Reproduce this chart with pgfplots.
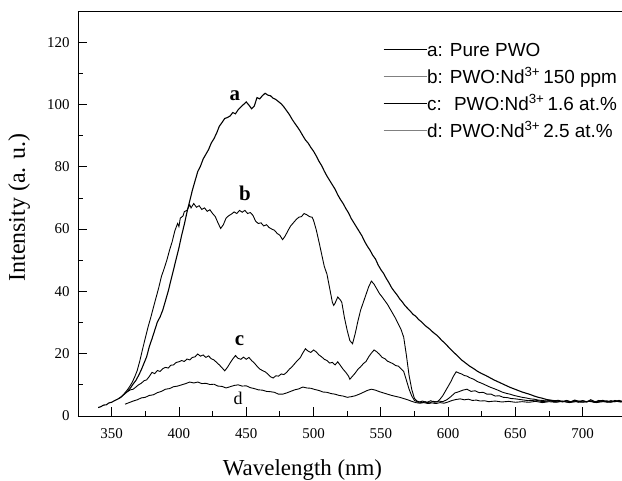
\documentclass[border=0pt]{standalone}
\usepackage{pgfplots}
\pgfplotsset{compat=1.18}
\usepackage{fontspec}
\setmainfont{Liberation Serif}
\newfontfamily\arial{Liberation Sans}
\begin{document}
\begin{tikzpicture}
\begin{axis}[
  scale only axis, width=544bp, height=405bp,
  xmin=325, xmax=729.2, ymin=0, ymax=130,
  axis x line=box, axis y line=left,
  y axis line style={-}, x axis line style={-},
  axis line style={line width=0.9pt},
  xtick pos=left, ytick pos=left,
  tick align=inside,
  major tick length=9bp, minor tick length=5bp,
  every tick/.style={black, line width=0.8pt},
  xtick={350,400,...,700}, ytick={0,20,...,120},
  minor x tick num=1, minor y tick num=1,
  /pgf/number format/assume math mode=true,
  tick label style={font=\fontsize{15}{17}\selectfont},
  xticklabel style={yshift=-9bp},
  yticklabel style={xshift=-5bp},
  every axis x label/.style={at={(axis description cs:0.4127,-0.148)}, anchor=base},
  every axis y label/.style={at={(axis description cs:-0.108,0.515)}, rotate=90, anchor=center},
  xlabel style={font=\fontsize{23}{27}\selectfont},
  ylabel style={font=\fontsize{24}{28}\selectfont},
  xlabel={Wavelength (nm)}, ylabel={Intensity (a. u.)},
  legend style={at={(0.5607,0.9185)}, anchor=north west, draw=none, fill=none,
    inner sep=0pt, row sep=12bp, column sep=0pt,
    font=\arial\fontsize{19}{22}\selectfont,
    nodes={inner sep=0pt, text height=12bp, text depth=3bp}},
  legend cell align=left,
  legend image code/.code={\draw[#1] (0bp,2bp) -- (43bp,2bp);},
]
\addlegendimage{black, line width=0.6pt}
\addlegendentry{a: Pure PWO}
\addlegendimage{gray, line width=0.9pt}
\addlegendentry{b: PWO:Nd\textsuperscript{3+}\,150 ppm}
\addlegendimage{black, line width=0.6pt}
\addlegendentry{c: \ PWO:Nd\textsuperscript{3+}\,1.6 at.\%}
\addlegendimage{gray, line width=0.9pt}
\addlegendentry{d: PWO:Nd\textsuperscript{3+}\,2.5 at.\%}

% curve a
\addplot[black, line width=1.1pt, forget plot] coordinates {
(340,2.7)(342,3.0)(344,3.5)(346,3.6)(348,4.2)(350,4.4)(352,4.9)(354,5.3)(356,5.8)(358,6.5)(360,7.2)(362,8.0)(364,9.0)(366,10.3)(368,11.4)(370,13.0)(372,14.8)(374,16.9)(376,19.0)(378,22.3)(380,24.8)(382,27.5)(384,30.2)(386,31.8)(388,34.0)(390,37.0)(392,40.0)(394,43.5)(396,47.0)(398,50.5)(400,54.0)(402,58.0)(404,61.5)(406,65.5)(408,69.0)(410,72.5)(412,75.5)(414,78.5)(416,80.2)(418,82.5)(420,84.0)(422,85.5)(424,87.6)(426,89.0)(428,90.8)(430,93.0)(432,94.2)(434,95.5)(436,95.8)(438,96.3)(440,97.4)(442,97.0)(444,98.3)(446,99.2)(448,100.0)(450,100.8)(452,99.8)(454,98.6)(456,99.5)(458,102.2)(460,101.8)(462,102.8)(464,103.6)(466,103.0)(468,102.8)(470,102.0)(472,101.6)(474,100.9)(476,100.2)(478,99.2)(480,98.0)(482,96.8)(484,95.3)(486,94.0)(488,92.8)(490,91.5)(492,90.0)(494,88.6)(496,87.6)(498,86.2)(500,85.0)(502,83.5)(504,81.8)(506,80.4)(508,78.6)(510,77.0)(512,75.6)(514,74.2)(516,72.8)(518,71.0)(520,69.5)(522,68.2)(524,66.6)(526,65.2)(528,63.4)(530,62.0)(532,60.6)(534,59.2)(536,57.8)(538,56.0)(540,54.5)(542,53.2)(544,51.6)(546,50.4)(548,48.5)(550,47.0)(552,45.8)(554,44.2)(556,42.8)(558,41.2)(560,40.0)(562,38.9)(564,37.6)(566,36.6)(568,35.4)(570,34.5)(572,33.6)(574,32.6)(576,32.0)(578,31.0)(580,30.3)(583,29.0)(586,28.0)(589,26.8)(592,25.8)(595,24.4)(598,23.2)(601,21.8)(604,20.5)(607,19.3)(610,18.0)(613,17.0)(616,16.0)(619,15.2)(622,14.3)(625,13.6)(628,13.0)(631,12.3)(634,11.6)(637,11.0)(640,10.4)(643,9.8)(646,9.2)(649,8.7)(652,8.2)(655,7.7)(658,7.3)(661,6.9)(664,6.4)(667,6.0)(670,5.7)(673,5.3)(676,5.1)(679,4.9)(682,5.0)(685,4.6)(688,4.9)(691,4.5)(694,5.1)(697,4.7)(700,4.9)(703,4.5)(706,5.2)(709,4.6)(712,4.8)(715,5.0)(718,4.5)(721,4.9)(724,4.6)(727,5.0)(729,4.7)
};
% curve b
\addplot[black, line width=0.9pt, forget plot] coordinates {
(355,5.6)(357,6.0)(359,7.0)(361,8.0)(363,9.2)(365,10.6)(367,12.4)(369,14.6)(371,17.8)(373,21.5)(375,25.0)(377,28.5)(379,31.5)(381,34.8)(383,38.0)(385,41.2)(387,44.8)(389,47.3)(391,50.0)(393,53.2)(395,56.0)(397,59.5)(399,61.8)(400,60.8)(401,63.5)(403,64.2)(404,65.6)(406,66.0)(408,67.8)(409,66.8)(411,68.2)(413,67.0)(415,67.5)(417,66.3)(419,66.8)(421,65.7)(423,66.2)(425,65.0)(427,64.0)(429,62.0)(431,60.2)(433,61.4)(435,63.5)(437,64.3)(439,64.8)(441,65.5)(443,65.0)(445,66.0)(447,65.4)(449,66.0)(451,65.0)(453,65.3)(455,64.4)(457,62.5)(459,61.8)(461,62.0)(463,61.0)(465,61.4)(467,60.5)(469,60.0)(471,59.6)(473,58.6)(475,58.0)(477,56.6)(479,57.8)(481,59.5)(483,61.0)(485,62.0)(487,63.0)(489,63.8)(491,64.0)(493,65.0)(495,64.6)(497,64.0)(499,63.8)(500,62.8)(502,59.8)(504,56.0)(506,52.0)(508,48.0)(510,45.5)(512,41.0)(514,36.5)(515,35.5)(516,36.2)(518,38.2)(520,37.2)(521,36.5)(523,31.5)(525,27.5)(527,24.2)(529,23.2)(531,26.5)(533,30.5)(535,34.0)(537,36.5)(539,39.0)(541,41.5)(543,43.3)(545,42.3)(547,40.8)(549,39.3)(551,38.2)(553,37.0)(555,35.8)(557,34.3)(559,32.8)(561,31.3)(563,29.5)(565,27.8)(567,25.3)(569,19.5)(571,13.0)(573,8.5)(575,5.6)(577,4.8)(580,4.3)(583,4.6)(586,4.2)(589,4.7)(592,4.5)(594,5.4)(596,6.5)(598,8.0)(600,9.5)(602,11.0)(604,12.8)(606,14.2)(608,13.8)(610,13.5)(612,13.0)(614,12.8)(616,12.3)(619,11.8)(622,11.0)(625,10.5)(628,9.9)(631,9.3)(634,8.8)(637,8.3)(640,7.7)(643,7.3)(646,7.0)(649,6.6)(652,6.3)(655,6.0)(658,5.8)(661,5.5)(664,5.4)(667,5.1)(670,5.0)(673,4.8)(676,5.0)(679,4.6)(682,4.9)(685,4.5)(688,5.0)(691,4.6)(694,4.8)(697,4.4)(700,4.9)(703,4.6)(706,4.8)(709,4.4)(712,5.0)(715,4.6)(718,4.9)(721,4.5)(724,5.0)(727,4.6)(729,4.8)
};
% curve c
\addplot[black, line width=0.9pt, forget plot] coordinates {
(360,7.4)(362,7.9)(364,8.4)(366,8.6)(368,9.3)(370,10.0)(372,10.5)(374,11.3)(376,11.6)(378,12.7)(380,14.0)(382,13.6)(384,14.6)(386,14.3)(388,15.2)(390,15.6)(392,15.4)(394,16.3)(396,16.4)(398,17.2)(400,17.4)(402,17.8)(404,17.5)(406,18.3)(408,18.0)(410,18.8)(412,19.0)(414,19.9)(416,19.2)(418,19.6)(420,18.8)(422,19.3)(424,18.4)(426,18.0)(428,17.2)(430,16.4)(432,15.5)(434,14.5)(436,15.6)(438,17.0)(440,18.3)(442,19.4)(444,18.5)(446,18.2)(448,18.9)(450,18.2)(452,18.8)(454,17.8)(456,17.0)(458,16.0)(460,15.1)(462,14.6)(464,14.2)(466,13.5)(468,12.6)(470,12.2)(472,12.9)(474,12.8)(476,13.5)(478,13.3)(480,14.0)(482,15.0)(484,15.8)(486,16.8)(488,17.8)(490,18.6)(492,20.2)(494,21.6)(496,20.8)(498,20.4)(500,21.2)(502,20.6)(504,19.6)(506,19.0)(508,18.2)(510,17.8)(512,17.0)(514,17.2)(516,16.4)(518,17.4)(520,16.2)(522,15.0)(524,14.0)(526,12.8)(527,11.8)(529,12.8)(531,13.8)(533,15.0)(535,15.8)(537,16.8)(539,17.5)(541,19.0)(543,20.2)(545,21.2)(547,20.6)(549,19.8)(551,18.8)(553,18.4)(555,17.6)(557,17.2)(559,16.8)(561,16.2)(563,16.0)(565,15.2)(567,14.3)(569,11.5)(571,8.6)(573,6.4)(575,5.0)(578,4.4)(581,4.8)(584,4.3)(587,4.9)(590,4.4)(593,4.8)(596,4.6)(599,5.2)(602,6.2)(605,7.4)(608,7.8)(611,8.3)(614,8.6)(617,7.9)(620,8.1)(623,7.5)(626,7.6)(629,7.0)(632,7.0)(635,6.4)(638,6.5)(641,6.0)(644,5.9)(647,5.6)(650,5.5)(655,5.2)(660,4.9)(665,5.1)(670,4.6)(675,4.9)(680,4.5)(685,4.8)(690,4.4)(695,4.9)(700,4.5)(705,4.8)(710,4.4)(715,4.9)(720,4.5)(725,4.8)(729,4.5)
};
% curve d
\addplot[black, line width=0.9pt, forget plot] coordinates {
(360,3.8)(363,4.3)(366,4.8)(369,5.2)(372,5.8)(375,6.0)(378,6.6)(381,6.8)(384,7.5)(387,7.9)(390,8.6)(393,8.8)(396,9.4)(399,9.6)(402,10.0)(405,10.4)(408,10.9)(411,10.6)(414,10.9)(417,10.4)(420,10.5)(423,10.1)(426,10.2)(429,9.6)(432,9.5)(435,9.0)(438,9.4)(441,9.8)(444,10.0)(447,9.6)(450,9.7)(453,9.1)(456,8.8)(459,8.4)(462,8.3)(465,7.9)(468,7.8)(471,7.6)(474,7.0)(477,7.0)(480,7.4)(483,7.9)(486,8.4)(489,8.7)(492,9.3)(495,9.0)(498,8.9)(501,8.5)(504,8.2)(507,7.7)(510,7.6)(513,7.2)(516,7.0)(519,6.6)(522,6.4)(525,6.0)(528,6.2)(531,6.5)(534,7.0)(537,7.6)(540,8.2)(543,8.6)(546,8.3)(549,7.8)(552,7.4)(555,7.0)(558,6.6)(561,6.3)(564,6.0)(567,5.6)(570,5.2)(573,4.7)(576,4.3)(579,4.1)(582,4.3)(585,4.0)(588,4.2)(591,4.0)(594,4.3)(597,4.1)(600,4.5)(603,5.0)(606,5.3)(609,5.5)(612,5.2)(615,5.4)(618,5.0)(621,5.1)(624,4.8)(627,4.9)(630,4.6)(635,4.8)(640,4.5)(645,4.7)(650,4.4)(655,4.6)(660,4.4)(665,4.7)(670,4.3)(675,4.6)(680,4.4)(685,4.7)(690,4.3)(695,4.6)(700,4.4)(705,4.7)(710,4.3)(715,4.6)(720,4.4)(725,4.7)(729,4.5)
};
\node[font=\bfseries\fontsize{21}{24}\selectfont] at (axis cs:441.5,102.7) {a};
\node[font=\bfseries\fontsize{21}{24}\selectfont] at (axis cs:449,71.6) {b};
\node[font=\bfseries\fontsize{21}{24}\selectfont] at (axis cs:445,24.2) {c};
\node[font=\fontsize{18}{20}\selectfont] at (axis cs:444,5.5) {d};
\end{axis}
\pgfresetboundingbox
\path (-78bp,-65bp) rectangle (544bp,416bp);
\end{tikzpicture}
\end{document}
